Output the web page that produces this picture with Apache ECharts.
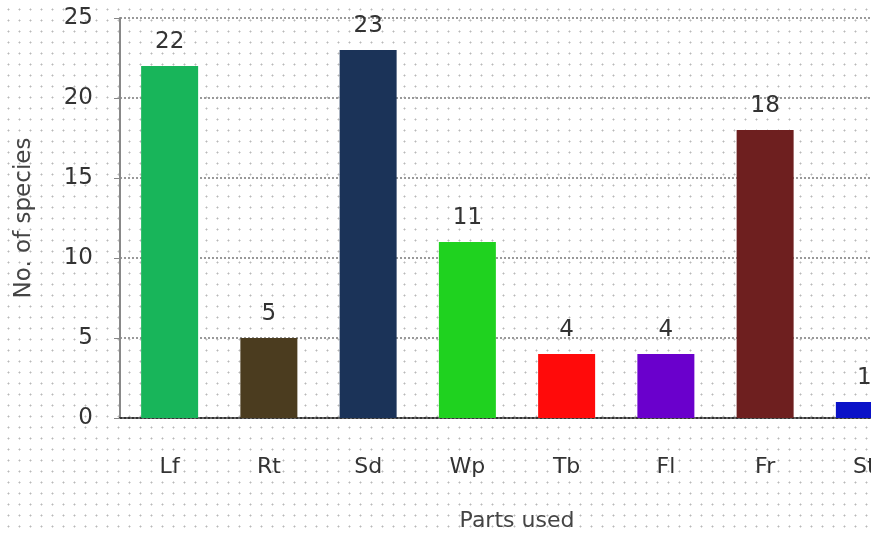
<!DOCTYPE html>
<html><head><meta charset="utf-8">
<script src="https://cdn.jsdelivr.net/npm/echarts@6/dist/echarts.min.js"></script>
<style>
html,body{margin:0;padding:0;background:#fff;overflow:hidden;width:871px;height:533px;}
#c{width:914px;height:533px;background-color:#fff;background-image:radial-gradient(circle,#b8b8b8 0.8px,transparent 1.2px);background-size:11px 11px;background-position:3px 4px;}
</style></head>
<body><div id="c"></div>
<script>
const categories = ['Lf','Rt','Sd','Wp','Tb','Fl','Fr','St'];
const values = [22,5,23,11,4,4,18,1];
const barColors = ['#18b55a','#4b3c1f','#1b3358','#1fd21f','#ff0a0a','#6a00cc','#6e1f1f','#0a12c8'];
const yTicks = [0,5,10,15,20,25];

const chart = echarts.init(document.getElementById('c'));
chart.setOption({
  animation:false,
  grid:{left:120,right:0,top:18,bottom:115,containLabel:false,outerBoundsMode:'none'},
  xAxis:{
    type:'category',data:categories,
    name:'Parts used',nameLocation:'middle',nameGap:92,
    nameTextStyle:{color:'#444',fontSize:22,fontFamily:'DejaVu Sans'},
    axisLine:{show:true,lineStyle:{color:'#333',type:'dotted',width:2}},
    axisTick:{show:false},
    axisLabel:{color:'#333',fontSize:22,margin:38,fontFamily:'DejaVu Sans'}
  },
  yAxis:{
    type:'value',min:0,max:25,interval:5,
    name:'No. of species',nameLocation:'middle',nameGap:84,
    nameTextStyle:{color:'#444',fontSize:23,fontFamily:'DejaVu Sans'},
    axisLine:{show:true,lineStyle:{color:'#888',width:2}},
    axisTick:{show:true,length:6,lineStyle:{color:'#888'}},
    axisLabel:{color:'#333',fontSize:23,margin:27,fontFamily:'DejaVu Sans',
      formatter:v=>yTicks.includes(v)?String(v):''},
    splitLine:{show:true,lineStyle:{color:'#999',type:'dotted',width:2}}
  },
  series:[{
    type:'bar',barWidth:57,
    data:values.map((v,i)=>({value:v,itemStyle:{color:barColors[i]}})),
    label:{show:true,position:'top',distance:12,color:'#333',fontSize:23,fontFamily:'DejaVu Sans'}
  }]
});
</script></body></html>
